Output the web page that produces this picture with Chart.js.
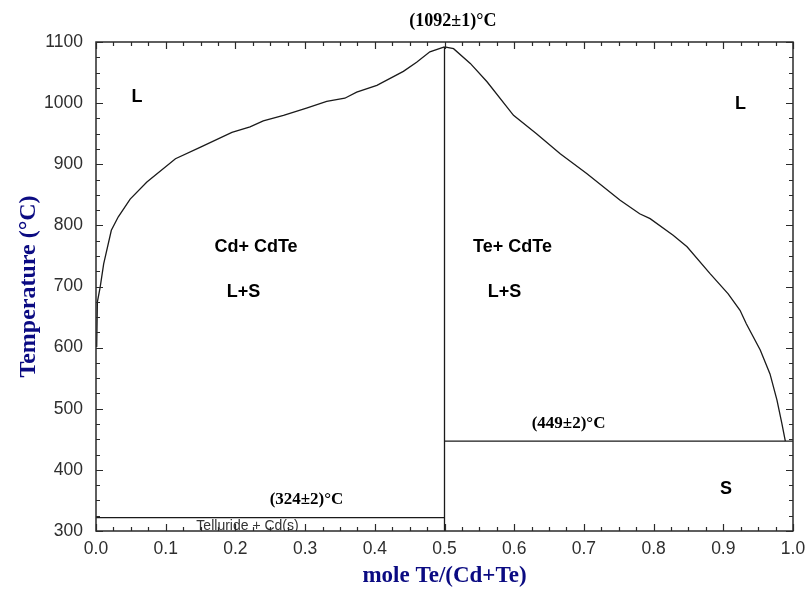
<!DOCTYPE html>
<html>
<head>
<meta charset="utf-8">
<script src="https://cdn.jsdelivr.net/npm/chart.js@4/dist/chart.umd.min.js"></script>
<style>
  html, body { margin: 0; padding: 0; background: #ffffff; }
  canvas { display: block; }
</style>
</head>
<body>
<canvas id="c" width="806" height="591"></canvas>
<script>
// ---- data ----
const leftLiquidusX = [0.001, 0.002, 0.006, 0.011, 0.022, 0.032, 0.049, 0.073, 0.114, 0.150, 0.195, 0.221, 0.240, 0.269, 0.302, 0.331, 0.357, 0.374, 0.403, 0.441, 0.460, 0.479, 0.500];
const leftLiquidusT = [601, 675, 699, 737, 792, 814, 843, 871, 909, 928, 952, 961, 971, 980, 992, 1003, 1008, 1018, 1029, 1052, 1067, 1084, 1092];
const rightLiquidusX = [0.500, 0.513, 0.537, 0.561, 0.599, 0.632, 0.666, 0.704, 0.752, 0.780, 0.795, 0.828, 0.848, 0.881, 0.907, 0.924, 0.933, 0.953, 0.967, 0.977, 0.984, 0.989];
const rightLiquidusT = [1092, 1089, 1065, 1035, 980, 950, 917, 885, 841, 819, 811, 784, 765, 721, 688, 661, 639, 596, 557, 514, 476, 447];
const congruentX = [0.5, 0.5];
const congruentT = [300, 1092];
const cdEutecticX = [0.0, 0.5];
const cdEutecticT = [322, 322];
const teEutecticX = [0.5, 1.0];
const teEutecticT = [447, 447];
const xTickLabels = ['0.0','0.1','0.2','0.3','0.4','0.5','0.6','0.7','0.8','0.9','1.0'];
const yTickLabels = ['300','400','500','600','700','800','900','1000','1100'];
const xTitle = 'mole Te/(Cd+Te)';
const yTitle = 'Temperature (\u00B0C)';

function pts(xs, ys) { return xs.map((x, i) => ({ x: x, y: ys[i] })); }

const lineStyle = { showLine: true, pointRadius: 0, borderColor: '#1a1a1a', borderWidth: 1.3, tension: 0, fill: false };

// text annotations (placed in data coordinates)
const annotations = [
  { text: 'L', x: 0.0588, y: 1010, font: 'bold 18px "Liberation Sans", Arial, sans-serif' },
  { text: 'L', x: 0.9247, y: 999, font: 'bold 18px "Liberation Sans", Arial, sans-serif' },
  { text: 'Cd+ CdTe', x: 0.2296, y: 765, font: 'bold 18px "Liberation Sans", Arial, sans-serif' },
  { text: 'L+S', x: 0.2116, y: 691, font: 'bold 18px "Liberation Sans", Arial, sans-serif' },
  { text: 'Te+ CdTe', x: 0.5976, y: 765, font: 'bold 18px "Liberation Sans", Arial, sans-serif' },
  { text: 'L+S', x: 0.586, y: 691, font: 'bold 18px "Liberation Sans", Arial, sans-serif' },
  { text: 'S', x: 0.9039, y: 369, font: 'bold 18px "Liberation Sans", Arial, sans-serif' },
  { text: '(1092\u00B11)\u00B0C', x: 0.512, y: 1133, font: 'bold 18px "Liberation Serif", "Times New Roman", serif' },
  { text: '(324\u00B12)\u00B0C', x: 0.302, y: 352, font: 'bold 17px "Liberation Serif", "Times New Roman", serif' },
  { text: '(449\u00B12)\u00B0C', x: 0.678, y: 475, font: 'bold 17px "Liberation Serif", "Times New Roman", serif' },
  { text: 'Telluride + Cd(s)', x: 0.2174, y: 308, font: '14px "Liberation Sans", Arial, sans-serif', color: '#333', clip: true }
];

const framePlugin = {
  id: 'frameAndText',
  afterDatasetsDraw(chart) {
    const ctx = chart.ctx;
    const xs = chart.scales.x, ys = chart.scales.y;
    const a = chart.chartArea;
    ctx.save();
    ctx.textAlign = 'center';
    ctx.textBaseline = 'middle';
    annotations.forEach(an => {
      ctx.save();
      if (an.clip) {
        ctx.beginPath();
        ctx.rect(a.left, a.top, a.right - a.left, a.bottom - a.top);
        ctx.clip();
      }
      ctx.font = an.font;
      ctx.fillStyle = an.color || '#000';
      ctx.fillText(an.text, xs.getPixelForValue(an.x), ys.getPixelForValue(an.y));
      ctx.restore();
    });
    ctx.restore();
  },
  afterDraw(chart) {
    const ctx = chart.ctx;
    const xs = chart.scales.x, ys = chart.scales.y;
    const a = chart.chartArea;
    ctx.save();
    ctx.strokeStyle = '#2a2a2a';
    ctx.lineWidth = 1.5;
    ctx.strokeRect(a.left, a.top, a.right - a.left, a.bottom - a.top);
    ctx.lineWidth = 1.2;
    ctx.beginPath();
    for (let i = 0; i <= 40; i++) {
      const v = i * 0.025;
      const px = Math.round(xs.getPixelForValue(v)) + 0.5;
      const len = (i % 4 === 0) ? 7 : 4;
      ctx.moveTo(px, a.bottom); ctx.lineTo(px, a.bottom - len);
      ctx.moveTo(px, a.top); ctx.lineTo(px, a.top + len);
    }
    for (let i = 0; i <= 32; i++) {
      const v = 300 + i * 25;
      const py = Math.round(ys.getPixelForValue(v)) + 0.5;
      const len = (i % 4 === 0) ? 7 : 4;
      ctx.moveTo(a.left, py); ctx.lineTo(a.left + len, py);
      ctx.moveTo(a.right, py); ctx.lineTo(a.right - len, py);
    }
    ctx.stroke();
    ctx.restore();
  }
};

new Chart(document.getElementById('c'), {
  type: 'scatter',
  data: {
    datasets: [
      Object.assign({ label: 'Cd-side liquidus', data: pts(leftLiquidusX, leftLiquidusT) }, lineStyle),
      Object.assign({ label: 'Te-side liquidus', data: pts(rightLiquidusX, rightLiquidusT) }, lineStyle),
      Object.assign({ label: 'CdTe', data: pts(congruentX, congruentT) }, lineStyle),
      Object.assign({ label: 'Cd eutectic', data: pts(cdEutecticX, cdEutecticT) }, lineStyle),
      Object.assign({ label: 'Te eutectic', data: pts(teEutecticX, teEutecticT) }, lineStyle)
    ]
  },
  options: {
    responsive: false,
    animation: false,
    devicePixelRatio: 1,
    layout: { padding: { left: 0, right: 13, top: 42, bottom: 0 } },
    plugins: { legend: { display: false }, tooltip: { enabled: false } },
    scales: {
      x: {
        type: 'linear', position: 'bottom', min: 0, max: 1,
        afterFit(s) { s.height = 60; s.paddingLeft = 0; s.paddingRight = 0; },
        grid: { display: false, drawTicks: false, tickLength: 0 },
        border: { display: false },
        ticks: {
          stepSize: 0.1, padding: 8, color: '#2e2e2e',
          font: { family: '"Liberation Sans", Arial, sans-serif', size: 17.5 },
          callback: (v, i) => xTickLabels[i]
        },
        title: {
          display: true, text: xTitle, color: '#0b0b82',
          font: { family: '"Liberation Serif", "Times New Roman", serif', size: 23, weight: 'bold' },
          padding: { top: 0, bottom: 1 }
        }
      },
      y: {
        type: 'linear', position: 'left', min: 300, max: 1100,
        afterFit(s) { s.width = 96; s.paddingTop = 0; s.paddingBottom = 0; },
        grid: { display: false, drawTicks: false, tickLength: 0 },
        border: { display: false },
        ticks: {
          stepSize: 100, padding: 13, color: '#2e2e2e',
          font: { family: '"Liberation Sans", Arial, sans-serif', size: 17.5 },
          callback: (v, i) => yTickLabels[i]
        },
        title: {
          display: true, text: yTitle, color: '#0b0b82',
          font: { family: '"Liberation Serif", "Times New Roman", serif', size: 24, weight: 'bold' },
          padding: { top: 14, bottom: 0 }
        }
      }
    }
  },
  plugins: [framePlugin]
});
</script>
</body>
</html>
